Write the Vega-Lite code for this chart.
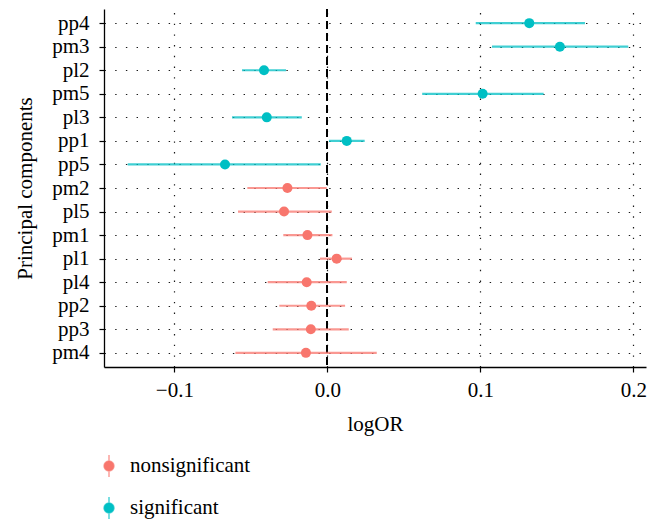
{
  "$schema": "https://vega.github.io/schema/vega-lite/v6.json",
  "width": 542,
  "height": 358,
  "autosize": "none",
  "padding": {"left": 104, "top": 9, "right": 10, "bottom": 155},
  "background": "white",
  "config": {
    "font": "Liberation Serif",
    "view": {"stroke": null},
    "axis": {
      "domainColor": "black",
      "domainWidth": 1.3,
      "tickColor": "black",
      "tickWidth": 1.2,
      "tickSize": 5,
      "labelColor": "black",
      "labelFontSize": 21,
      "titleColor": "black",
      "titleFontSize": 21,
      "titleFontWeight": "normal",
      "grid": true,
      "gridColor": "black",
      "gridDash": [1.4, 9.3],
      "gridWidth": 1.2,
      "gridOpacity": 0.9
    }
  },
  "data": {
    "values": [
      {"pc": "pp4", "logOR": 0.132, "lo": 0.097, "hi": 0.1684, "sig": "significant"},
      {"pc": "pm3", "logOR": 0.152, "lo": 0.1076, "hi": 0.1967, "sig": "significant"},
      {"pc": "pl2", "logOR": -0.0414, "lo": -0.0558, "hi": -0.027, "sig": "significant"},
      {"pc": "pm5", "logOR": 0.1015, "lo": 0.062, "hi": 0.1414, "sig": "significant"},
      {"pc": "pl3", "logOR": -0.0396, "lo": -0.0623, "hi": -0.0167, "sig": "significant"},
      {"pc": "pp1", "logOR": 0.0127, "lo": 0.0011, "hi": 0.0244, "sig": "significant"},
      {"pc": "pp5", "logOR": -0.0669, "lo": -0.1305, "hi": -0.0043, "sig": "significant"},
      {"pc": "pm2", "logOR": -0.0261, "lo": -0.0523, "hi": -0.0004, "sig": "nonsignificant"},
      {"pc": "pl5", "logOR": -0.0283, "lo": -0.0584, "hi": 0.0029, "sig": "nonsignificant"},
      {"pc": "pm1", "logOR": -0.013, "lo": -0.0288, "hi": 0.0033, "sig": "nonsignificant"},
      {"pc": "pl1", "logOR": 0.0061, "lo": -0.0048, "hi": 0.0161, "sig": "nonsignificant"},
      {"pc": "pl4", "logOR": -0.0135, "lo": -0.039, "hi": 0.0127, "sig": "nonsignificant"},
      {"pc": "pp2", "logOR": -0.0105, "lo": -0.0314, "hi": 0.0116, "sig": "nonsignificant"},
      {"pc": "pp3", "logOR": -0.0108, "lo": -0.0357, "hi": 0.014, "sig": "nonsignificant"},
      {"pc": "pm4", "logOR": -0.014, "lo": -0.0601, "hi": 0.0323, "sig": "nonsignificant"}
    ]
  },
  "encoding": {
    "y": {
      "field": "pc",
      "type": "nominal",
      "sort": null,
      "scale": {"type": "point", "padding": 0.6},
      "axis": {"title": "Principal components", "labelPadding": 10, "titlePadding": 16}
    },
    "color": {
      "field": "sig",
      "type": "nominal",
      "scale": {"domain": ["nonsignificant", "significant"], "range": ["#F8766D", "#00BFC4"]},
      "legend": {
        "title": null,
        "orient": "none",
        "legendX": -7,
        "legendY": 445,
        "direction": "vertical",
        "padding": 0,
        "symbolType": "M0,-1L0,1M-0.45,0A0.45,0.45 0 1 0 0.45,0A0.45,0.45 0 1 0 -0.45,0Z",
        "symbolSize": 484,
        "symbolStrokeWidth": 1.5,
        "symbolOpacity": 1,
        "rowPadding": 14,
        "labelOffset": 9,
        "labelFontSize": 21,
        "labelColor": "black",
        "encode": {
          "symbols": {
            "update": {
              "fill": {"scale": "color", "field": "value"},
              "stroke": {"scale": "color", "field": "value"},
              "strokeOpacity": {"value": 0.7}
            }
          }
        }
      }
    }
  },
  "layer": [
    {
      "mark": {"type": "rule", "color": "black", "strokeDash": [8, 4], "strokeWidth": 1.2},
      "encoding": {
        "x": {"datum": 0, "type": "quantitative"},
        "y": null,
        "color": null
      }
    },
    {
      "mark": {"type": "rule", "strokeWidth": 2.2, "opacity": 0.75},
      "encoding": {
        "x": {
          "field": "lo",
          "type": "quantitative",
          "scale": {"domain": [-0.146, 0.2083], "nice": false, "zero": false},
          "axis": {"title": "logOR", "values": [-0.1, 0, 0.1, 0.2], "format": ".1f", "labelPadding": 7, "titlePadding": 13}
        },
        "x2": {"field": "hi"}
      }
    },
    {
      "mark": {"type": "point", "filled": true, "size": 100, "opacity": 1},
      "encoding": {
        "x": {"field": "logOR", "type": "quantitative"}
      }
    }
  ]
}
